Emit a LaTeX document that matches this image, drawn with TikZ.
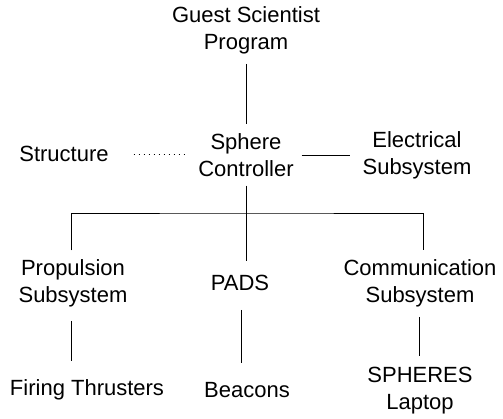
\documentclass[tikz,border=0pt]{standalone}
\usepackage{fontspec}
\setmainfont{Liberation Sans}

\tikzset{
  part/.style={align=center, inner sep=0pt, outer sep=0pt, font=\fontsize{22}{27}\selectfont},
  link/.style={line width=1pt},
}

\begin{document}
\begin{tikzpicture}[x=1pt, y=-1pt]
\useasboundingbox (0,0) rectangle (503,418);
% top and middle row
\node[part] (gsp) at (246,30) {Guest Scientist\\Program};
\node[part] (sc) at (246,155) {Sphere\\Controller};
\node[part] (struct) at (64,154) {Structure};
\node[part] (elec) at (417,155) {Electrical\\Subsystem};
% subsystems
\node[part] (prop) at (73,283) {Propulsion\\Subsystem};
\node[part] (pads) at (240,283) {PADS};
\node[part] (comm) at (420,283) {Communication\\Subsystem};
% bottom row
\node[part] (fire) at (87,390) {Firing Thrusters};
\node[part] (beac) at (247,390) {Beacons};
\node[part] (lap) at (420,391) {SPHERES\\Laptop};
\coordinate (bus) at (246,213);

\draw[link, shorten <=10pt, shorten >=9pt] (gsp) -- (sc);
\draw[link, dash pattern=on 1pt off 4pt, shorten <=25pt, shorten >=13pt] (struct) -- (struct -| sc.west);
\draw[link, shorten <=8pt, shorten >=13pt] (sc.east |- elec) -- (elec);
%\draw (sc) -- (bus);
\draw[link, shorten <=9pt, shorten >=14pt] (sc.south) -- (sc.south |- pads.north);
\draw[link, shorten <=9pt, shorten >=9pt] ([xshift=-2pt]prop.north) |- (bus) -| ([xshift=3pt]comm.north);
\draw[link, shorten <=14pt, shorten >=19pt] ([xshift=-2pt]prop.south) -- ([xshift=-2pt]prop.south |- fire.north);
\draw[link, shorten <=19pt, shorten >=19pt] ([xshift=1pt]pads.south) -- ([xshift=1pt]pads.south |- beac.north);
\draw[link, shorten <=10pt, shorten >=12pt] ([xshift=-1pt]comm.south) -- ([xshift=-1pt]lap.north);
\end{tikzpicture}
\end{document}
